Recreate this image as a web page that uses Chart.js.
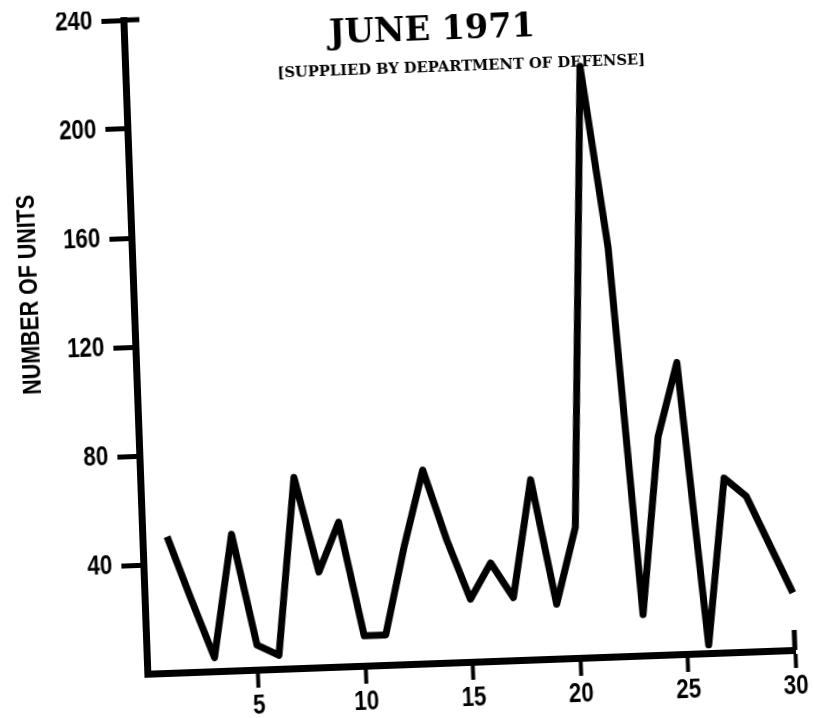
<!DOCTYPE html>
<html>
<head>
<meta charset="utf-8">
<title>June 1971</title>
<script src="https://cdn.jsdelivr.net/npm/chart.js@4.4.1/dist/chart.umd.min.js"></script>
<style>
  html, body { margin: 0; padding: 0; background: #fff; overflow: hidden; }
  /* the scan is tilted a couple of degrees */
  #chart { display: block; transform: rotate(-2.1deg); transform-origin: 50% 50%; }
</style>
</head>
<body>
<canvas id="chart" width="814" height="718"></canvas>
<script>
const days = [1, 2, 3, 4, 5, 6, 7, 8, 9, 10, 11, 12, 13, 14, 15,
  16, 17, 18, 19, 20, 21, 22, 23, 24, 25, 26, 27, 28, 29, 30];
const units = [50, 27, 5, 50, 9, 5, 70, 35, 53, 11, 11, 43, 71, 45, 23,
  36, 23, 66, 20, 48, 217, 150, 15, 80, 107, 3, 64, 57, 39, 21];
const xTicks = [5, 10, 15, 20, 25, 30];
const yTicks = [40, 80, 120, 160, 200, 240];
const title = "JUNE 1971";
const subtitle = "[SUPPLIED BY DEPARTMENT OF DEFENSE]";
const yTitle = "NUMBER OF UNITS";

const gothic = "'Liberation Sans', Arial, sans-serif";
const slab = "'DejaVu Serif', 'Liberation Serif', serif";
const ink = "#000";

// no condensed face is installed, so squeeze the gothic labels sideways
function narrowText(ctx, text, x, y, squeeze) {
  ctx.save();
  ctx.translate(x, y);
  ctx.scale(squeeze, 1);
  ctx.fillText(text, 0, 0);
  ctx.restore();
}

const headings = {
  id: "headings",
  afterDraw(chart) {
    const { ctx } = chart;
    const xs = chart.scales.x;
    const ys = chart.scales.y;
    ctx.save();
    ctx.fillStyle = ink;
    ctx.strokeStyle = ink;

    // cap on top of the y axis and the end mark of the x axis
    ctx.lineWidth = 5;
    ctx.beginPath();
    ctx.moveTo(ys.right, ys.getPixelForValue(240));
    ctx.lineTo(ys.right + 16, ys.getPixelForValue(240));
    ctx.moveTo(xs.getPixelForValue(30), xs.top);
    ctx.lineTo(xs.getPixelForValue(30), xs.top - 20);
    ctx.stroke();

    ctx.textBaseline = "middle";
    ctx.font = `bold 28px ${gothic}`;
    ctx.textAlign = "right";
    yTicks.forEach((v) => narrowText(ctx, String(v), ys.right - 31, ys.getPixelForValue(v), 0.8));
    ctx.textAlign = "center";
    xTicks.forEach((v) => narrowText(ctx, String(v), xs.getPixelForValue(v), xs.top + 36, 0.8));

    ctx.font = `bold 34px ${slab}`;
    ctx.fillText(title, 444, 32, 206);
    ctx.font = `bold 15px ${slab}`;
    ctx.fillText(subtitle, 472, 69, 368);

    ctx.translate(33, 281);
    ctx.rotate(-Math.PI / 2);
    ctx.font = `bold 26px ${gothic}`;
    narrowText(ctx, yTitle, 0, 0, Math.min(1, 200 / ctx.measureText(yTitle).width));
    ctx.restore();
  },
};

new Chart(document.getElementById("chart"), {
  type: "line",
  data: {
    datasets: [
      {
        data: days.map((day, i) => ({ x: day, y: units[i] })),
        borderColor: ink,
        borderWidth: 7,
        borderJoinStyle: "round",
        borderCapStyle: "butt",
        pointRadius: 0,
        tension: 0,
        fill: false,
        clip: false,
      },
    ],
  },
  options: {
    responsive: false,
    animation: false,
    devicePixelRatio: 1,
    layout: {
      padding: { left: 72, right: 30, top: 10, bottom: 8 },
    },
    plugins: {
      legend: { display: false },
      tooltip: { enabled: false },
    },
    scales: {
      x: {
        type: "linear",
        min: -0.15,
        max: 30,
        afterBuildTicks(scale) {
          scale.ticks = xTicks.map((value) => ({ value }));
        },
        afterFit(scale) {
          scale.height = 46;
        },
        border: { color: ink, width: 7 },
        grid: {
          drawOnChartArea: false,
          tickLength: 18,
          tickWidth: 4,
          tickColor: ink,
        },
        ticks: { display: false },
      },
      y: {
        min: 0,
        max: 240,
        afterBuildTicks(scale) {
          scale.ticks = yTicks.map((value) => ({ value }));
        },
        afterFit(scale) {
          scale.width = 64;
        },
        border: { color: ink, width: 7 },
        grid: {
          drawOnChartArea: false,
          tickLength: 22,
          tickWidth: 5,
          tickColor: ink,
        },
        ticks: { display: false },
      },
    },
  },
  plugins: [headings],
});
</script>
</body>
</html>
